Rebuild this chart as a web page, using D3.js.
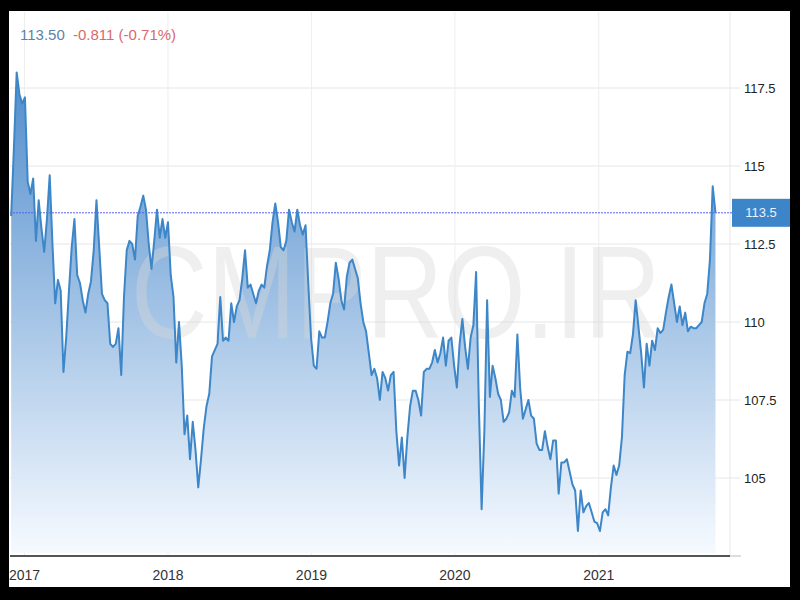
<!DOCTYPE html>
<html><head><meta charset="utf-8">
<script src="https://cdn.jsdelivr.net/npm/d3@7"></script>
<style>body{margin:0;background:#000;} svg{display:block}</style>
</head><body>
<svg id="c" width="800" height="600"></svg>
<script>
// weekly series, first point on startDate, one value per week
const startDate = "2016-11-28";
const values = [
113.4,115.6,118.0,117.3,117.0,117.2,114.5,114.1,114.6,112.6,
113.9,113.0,112.25,113.3,114.7,112.5,110.6,111.35,111.0,108.4,
109.5,111.0,112.4,113.3,111.5,111.25,110.7,110.3,110.9,111.3,
112.3,113.9,112.4,110.9,110.7,110.6,109.3,109.2,109.3,109.8,
108.3,110.8,112.3,112.6,112.5,112.0,113.4,113.7,114.05,113.6,
112.5,111.7,112.6,113.6,112.7,113.3,112.7,113.2,111.5,110.8,
108.7,110.0,108.6,106.4,107.0,105.6,106.8,105.9,104.7,105.6,
106.6,107.3,107.7,108.9,109.1,109.3,110.8,109.4,109.5,109.4,
110.6,110.0,110.5,110.7,111.4,112.3,111.1,111.2,110.9,110.6,
111.0,111.2,111.1,111.8,112.3,113.2,113.8,113.2,112.4,112.3,
112.6,113.6,113.2,112.9,113.6,113.1,112.8,113.1,111.2,109.5,
108.6,108.5,109.7,109.5,109.5,110.0,110.6,110.9,111.9,111.4,
110.7,110.4,111.45,111.9,112.0,111.7,111.4,110.6,110.0,109.7,
109.0,108.3,108.5,108.2,107.5,108.4,108.2,107.8,108.3,108.4,
106.5,105.4,106.3,105.0,106.3,107.3,107.8,107.8,107.5,107.0,
108.4,108.5,108.5,108.7,109.1,108.7,109.0,109.5,108.6,109.4,
109.5,108.6,107.9,109.3,110.1,109.2,108.5,109.5,109.9,111.6,
107.3,104.0,106.5,110.7,107.6,108.6,108.2,107.7,107.5,106.8,
106.9,107.1,107.8,107.6,109.6,107.9,106.9,107.2,107.5,107.0,
106.9,106.1,105.9,105.9,106.5,106.0,105.6,106.2,106.2,104.5,
105.5,105.5,105.6,105.2,104.8,104.6,103.3,104.6,103.9,104.1,
104.2,103.9,103.6,103.55,103.3,103.9,104.0,103.8,104.7,105.4,
105.1,105.4,106.3,108.3,109.05,109.0,109.6,110.7,109.85,109.0,
107.9,109.3,108.6,109.4,109.1,109.8,109.65,109.75,110.3,110.8,
111.2,110.6,110.0,110.5,109.9,110.3,109.7,109.85,109.8,109.8,
109.9,110.0,110.6,110.9,112.0,114.35,113.5
];
const yTicks = [105, 107.5, 110, 112.5, 115, 117.5];
const yearTicks = ["2017", "2018", "2019", "2020", "2021"];
const lastValue = 113.5;
const headerPrice = "113.50";
const headerChange = "-0.811 (-0.71%)";
const watermark = "CMPRO.IR";

const svg = d3.select("#c");
svg.append("rect").attr("x",9).attr("y",11).attr("width",781).attr("height",576).attr("fill","#fff");

const parse = d3.timeParse("%Y-%m-%d");
const t0 = parse(startDate);
const data = values.map((v,i)=>({d:d3.timeDay.offset(t0, 7*i), v}));

const x = d3.scaleTime().domain([parse("2016-11-25"), parse("2021-12-01")]).range([10,730]);
const y = d3.scaleLinear().domain([102.5,120]).range([556,10]);

const defs = svg.append("defs");
const g = defs.append("linearGradient").attr("id","fillg")
  .attr("gradientUnits","userSpaceOnUse").attr("x1",0).attr("x2",0)
  .attr("y1",60).attr("y2",553);
g.append("stop").attr("offset","0").attr("stop-color","#4c8acb");
g.append("stop").attr("offset","1").attr("stop-color","#f6faff");

// grid
svg.append("g").selectAll("line").data(yTicks).join("line")
  .attr("x1",10).attr("x2",740).attr("y1",d=>y(d)).attr("y2",d=>y(d))
  .attr("stroke","#e6e6e6").attr("stroke-width",1);
svg.append("g").selectAll("line").data(yearTicks).join("line")
  .attr("x1",d=>x(parse(d+"-01-01"))).attr("x2",d=>x(parse(d+"-01-01")))
  .attr("y1",12).attr("y2",556).attr("stroke","#eeeeee").attr("stroke-width",1);
svg.append("line").attr("x1",730).attr("x2",730).attr("y1",12).attr("y2",556)
  .attr("stroke","#e8e8e8");

// area
const area = d3.area().x(d=>x(d.d)).y0(553).y1(d=>y(d.v));
svg.append("path").datum(data).attr("d",area).attr("fill","url(#fillg)");

// watermark
svg.append("text").text(watermark)
  .attr("transform","translate(131,338) scale(1,1.25)")
  .attr("x",0).attr("y",0)
  .attr("font-family","Liberation Sans, Arial, sans-serif").attr("font-size",106)
  .attr("fill","#d8d8d8").attr("fill-opacity",0.4);

// current value dotted line
svg.append("line").attr("x1",10).attr("x2",732).attr("y1",y(lastValue)).attr("y2",y(lastValue))
  .attr("stroke","#5a5ff0").attr("stroke-width",1).attr("stroke-dasharray","2,1");

// line
const line = d3.line().x(d=>x(d.d)).y(d=>y(d.v));
svg.append("path").datum(data).attr("d",line).attr("fill","none")
  .attr("stroke","#3d86c8").attr("stroke-width",2).attr("stroke-linejoin","round");

// x axis
svg.append("line").attr("x1",10).attr("x2",730).attr("y1",556).attr("y2",556)
  .attr("stroke","#555").attr("stroke-width",2);
svg.append("line").attr("x1",730).attr("x2",741).attr("y1",556).attr("y2",556)
  .attr("stroke","#dddddd").attr("stroke-width",2);
svg.append("g").selectAll("text").data(yearTicks).join("text")
  .attr("x",d=>x(parse(d+"-01-01"))).attr("y",580).attr("text-anchor","middle")
  .attr("font-family","Liberation Sans, Arial, sans-serif").attr("font-size",14)
  .attr("fill","#333").text(d=>d);

// y labels
svg.append("g").selectAll("text").data(yTicks).join("text")
  .attr("x",744).attr("y",d=>y(d)).attr("dy","0.36em")
  .attr("font-family","Liberation Sans, Arial, sans-serif").attr("font-size",13)
  .attr("fill","#222").text(d=>d3.format(".1~f")(d));

// current value box
svg.append("rect").attr("x",732).attr("y",y(lastValue)-14).attr("width",58).attr("height",28)
  .attr("fill","#3d85c9");
svg.append("text").attr("x",761).attr("y",y(lastValue)).attr("dy","0.36em").attr("text-anchor","middle")
  .attr("font-family","Liberation Sans, Arial, sans-serif").attr("font-size",13)
  .attr("fill","#eaf2ff").text(d3.format(".1f")(lastValue));

// header
svg.append("text").attr("x",20).attr("y",40)
  .attr("font-family","Liberation Sans, Arial, sans-serif").attr("font-size",15)
  .attr("fill","#5b82ab").text(headerPrice);
svg.append("text").attr("x",73).attr("y",40)
  .attr("font-family","Liberation Sans, Arial, sans-serif").attr("font-size",15)
  .attr("fill","#d96a6a").text(headerChange);
</script>
</body></html>
